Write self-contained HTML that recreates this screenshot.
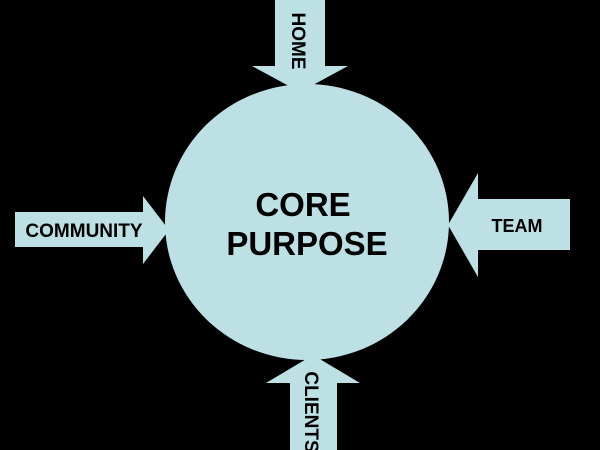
<!DOCTYPE html>
<html><head><style>
body{margin:0;background:#000;}
svg{display:block}
text{font-family:"Liberation Sans",sans-serif;font-weight:bold;fill:#000}
</style></head><body>
<svg width="600" height="450" viewBox="0 0 600 450">
<rect width="600" height="450" fill="#000"/>
<g fill="#bce0e4">
<polygon points="275,0 325,0 325,66 348,66 300,92 252,66 275,66"/>
<polygon points="290,450 337,450 337,383 360,383 313,355 266,383 290,383"/>
<polygon points="15,212 143,212 143,196 169,230 143,264 143,247 15,247"/>
<polygon points="570,199 478,199 478,173 448,225 478,277 478,250 570,250"/>
<ellipse cx="307" cy="222" rx="142" ry="138"/>
</g>
<text x="303" y="216" font-size="33" text-anchor="middle">CORE</text>
<text x="307" y="255" font-size="33" text-anchor="middle">PURPOSE</text>
<text x="84" y="237" font-size="19" text-anchor="middle">COMMUNITY</text>
<text x="517" y="232" font-size="18" text-anchor="middle">TEAM</text>
<text transform="translate(292,41) rotate(90)" font-size="19" text-anchor="middle">HOME</text>
<text transform="translate(305,412) rotate(90)" font-size="19" text-anchor="middle">CLIENTS</text>
</svg>
</body></html>
